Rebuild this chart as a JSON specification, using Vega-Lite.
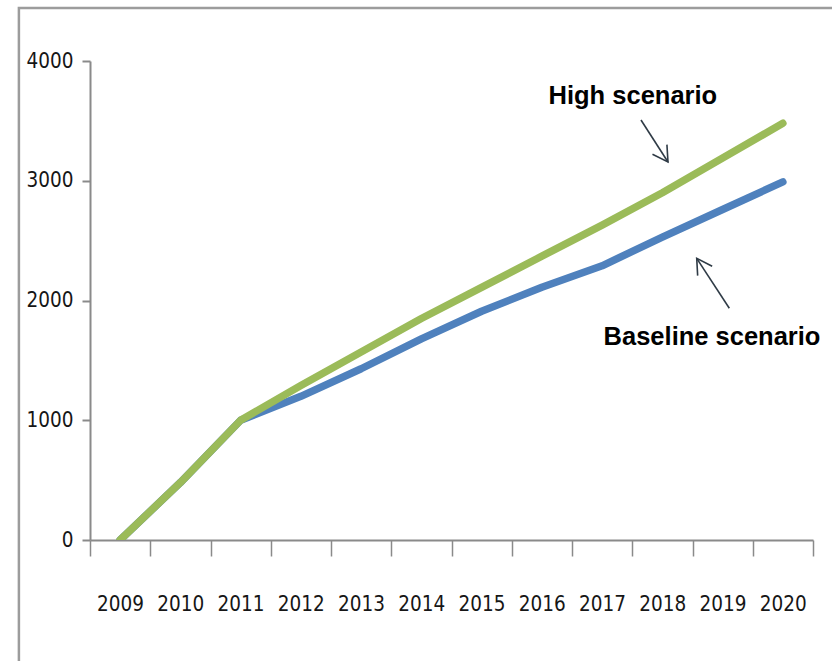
{
  "$schema": "https://vega.github.io/schema/vega-lite/v6.json",
  "width": 723,
  "height": 479,
  "autosize": {"type": "none"},
  "padding": {"left": 90, "top": 61, "right": 19, "bottom": 121},
  "background": "white",
  "config": {"view": {"stroke": null}},
  "datasets": {
    "series": [
      {"year": 2009, "scenario": "Baseline scenario", "value": 0},
      {"year": 2010, "scenario": "Baseline scenario", "value": 480},
      {"year": 2011, "scenario": "Baseline scenario", "value": 1000},
      {"year": 2012, "scenario": "Baseline scenario", "value": 1200},
      {"year": 2013, "scenario": "Baseline scenario", "value": 1430},
      {"year": 2014, "scenario": "Baseline scenario", "value": 1680},
      {"year": 2015, "scenario": "Baseline scenario", "value": 1910},
      {"year": 2016, "scenario": "Baseline scenario", "value": 2110},
      {"year": 2017, "scenario": "Baseline scenario", "value": 2290},
      {"year": 2018, "scenario": "Baseline scenario", "value": 2530},
      {"year": 2019, "scenario": "Baseline scenario", "value": 2760},
      {"year": 2020, "scenario": "Baseline scenario", "value": 2990},
      {"year": 2009, "scenario": "High scenario", "value": 0},
      {"year": 2010, "scenario": "High scenario", "value": 480},
      {"year": 2011, "scenario": "High scenario", "value": 1000},
      {"year": 2012, "scenario": "High scenario", "value": 1290},
      {"year": 2013, "scenario": "High scenario", "value": 1570},
      {"year": 2014, "scenario": "High scenario", "value": 1850},
      {"year": 2015, "scenario": "High scenario", "value": 2110},
      {"year": 2016, "scenario": "High scenario", "value": 2370},
      {"year": 2017, "scenario": "High scenario", "value": 2630},
      {"year": 2018, "scenario": "High scenario", "value": 2900},
      {"year": 2019, "scenario": "High scenario", "value": 3190},
      {"year": 2020, "scenario": "High scenario", "value": 3480}
    ],
    "callouts": [
      {"label": "High scenario", "label_year": 2017.51, "label_value": 3708,
       "tail_year": 2017.645, "tail_value": 3507, "head_year": 2018.093, "head_value": 3157},
      {"label": "Baseline scenario", "label_year": 2018.824, "label_value": 1695,
       "tail_year": 2019.111, "tail_value": 1935, "head_year": 2018.57, "head_value": 2352}
    ],
    "frame": [
      {"left": 2007.32, "right": 2021.3, "top": 4443, "bottom": -1200}
    ]
  },
  "layer": [
    {
      "data": {"name": "frame"},
      "mark": {"type": "rect", "fill": null, "stroke": "#9c9c9c", "strokeWidth": 2.5, "clip": false},
      "encoding": {
        "x": {"field": "left", "type": "quantitative", "scale": {"domain": [2008.5, 2020.5], "nice": false, "zero": false}},
        "x2": {"field": "right"},
        "y": {"field": "top", "type": "quantitative"},
        "y2": {"field": "bottom"}
      }
    },
    {
      "data": {"name": "series"},
      "mark": {"type": "line", "strokeWidth": 7.5, "strokeCap": "round", "strokeJoin": "round", "clip": true},
      "encoding": {
        "x": {
          "field": "year",
          "type": "quantitative",
          "scale": {"domain": [2008.5, 2020.5], "nice": false, "zero": false},
          "axis": {
            "title": null,
            "grid": false,
            "values": [2008.5, 2009.5, 2010.5, 2011.5, 2012.5, 2013.5, 2014.5, 2015.5, 2016.5, 2017.5, 2018.5, 2019.5, 2020.5],
            "labelExpr": "datum.value > 2020 ? '' : format(datum.value + 0.5, 'd')",
            "labelOffset": 30,
            "labelFlush": false,
            "labelOverlap": false,
            "labelBound": false,
            "labelPadding": 38,
            "labelFont": "DejaVu Sans Condensed, sans-serif",
            "labelFontSize": 20.5,
            "labelColor": "#161616",
            "domainColor": "#8a8a8a",
            "domainWidth": 2,
            "tickColor": "#8a8a8a",
            "tickWidth": 1.5,
            "tickSize": 16
          }
        },
        "y": {
          "field": "value",
          "type": "quantitative",
          "scale": {"domain": [0, 4000], "nice": false},
          "axis": {
            "title": null,
            "grid": false,
            "values": [0, 1000, 2000, 3000, 4000],
            "format": "d",
            "labelPadding": 9,
            "labelFont": "DejaVu Sans Condensed, sans-serif",
            "labelFontSize": 20.5,
            "labelColor": "#161616",
            "domainColor": "#8a8a8a",
            "domainWidth": 2,
            "tickColor": "#8a8a8a",
            "tickWidth": 2,
            "tickSize": 8
          }
        },
        "color": {
          "field": "scenario",
          "type": "nominal",
          "scale": {"domain": ["Baseline scenario", "High scenario"], "range": ["#4f81bd", "#9bbb59"]},
          "legend": null
        },
        "order": {"field": "year"}
      }
    },
    {
      "data": {"name": "callouts"},
      "mark": {"type": "rule", "color": "#2f3b46", "strokeWidth": 1.6, "clip": false},
      "encoding": {
        "x": {"field": "tail_year", "type": "quantitative"},
        "y": {"field": "tail_value", "type": "quantitative"},
        "x2": {"field": "head_year"},
        "y2": {"field": "head_value"}
      }
    },
    {
      "data": {"name": "callouts"},
      "mark": {"type": "point", "shape": "M -0.5 -0.866 L 0 0 L 0.5 -0.866", "filled": false, "size": 1200, "strokeWidth": 1.6, "color": "#2f3b46", "opacity": 1, "clip": false},
      "encoding": {
        "x": {"field": "head_year", "type": "quantitative"},
        "y": {"field": "head_value", "type": "quantitative"},
        "angle": {"field": "label", "type": "nominal", "scale": {"domain": ["High scenario", "Baseline scenario"], "range": [326.5, 146.9]}, "legend": null}
      }
    },
    {
      "data": {"name": "callouts"},
      "mark": {"type": "text", "font": "Liberation Sans, Arial, sans-serif", "fontWeight": "bold", "fontSize": 25.5, "color": "#000000", "align": "center", "baseline": "middle", "clip": false},
      "encoding": {
        "x": {"field": "label_year", "type": "quantitative"},
        "y": {"field": "label_value", "type": "quantitative"},
        "text": {"field": "label"}
      }
    }
  ]
}
